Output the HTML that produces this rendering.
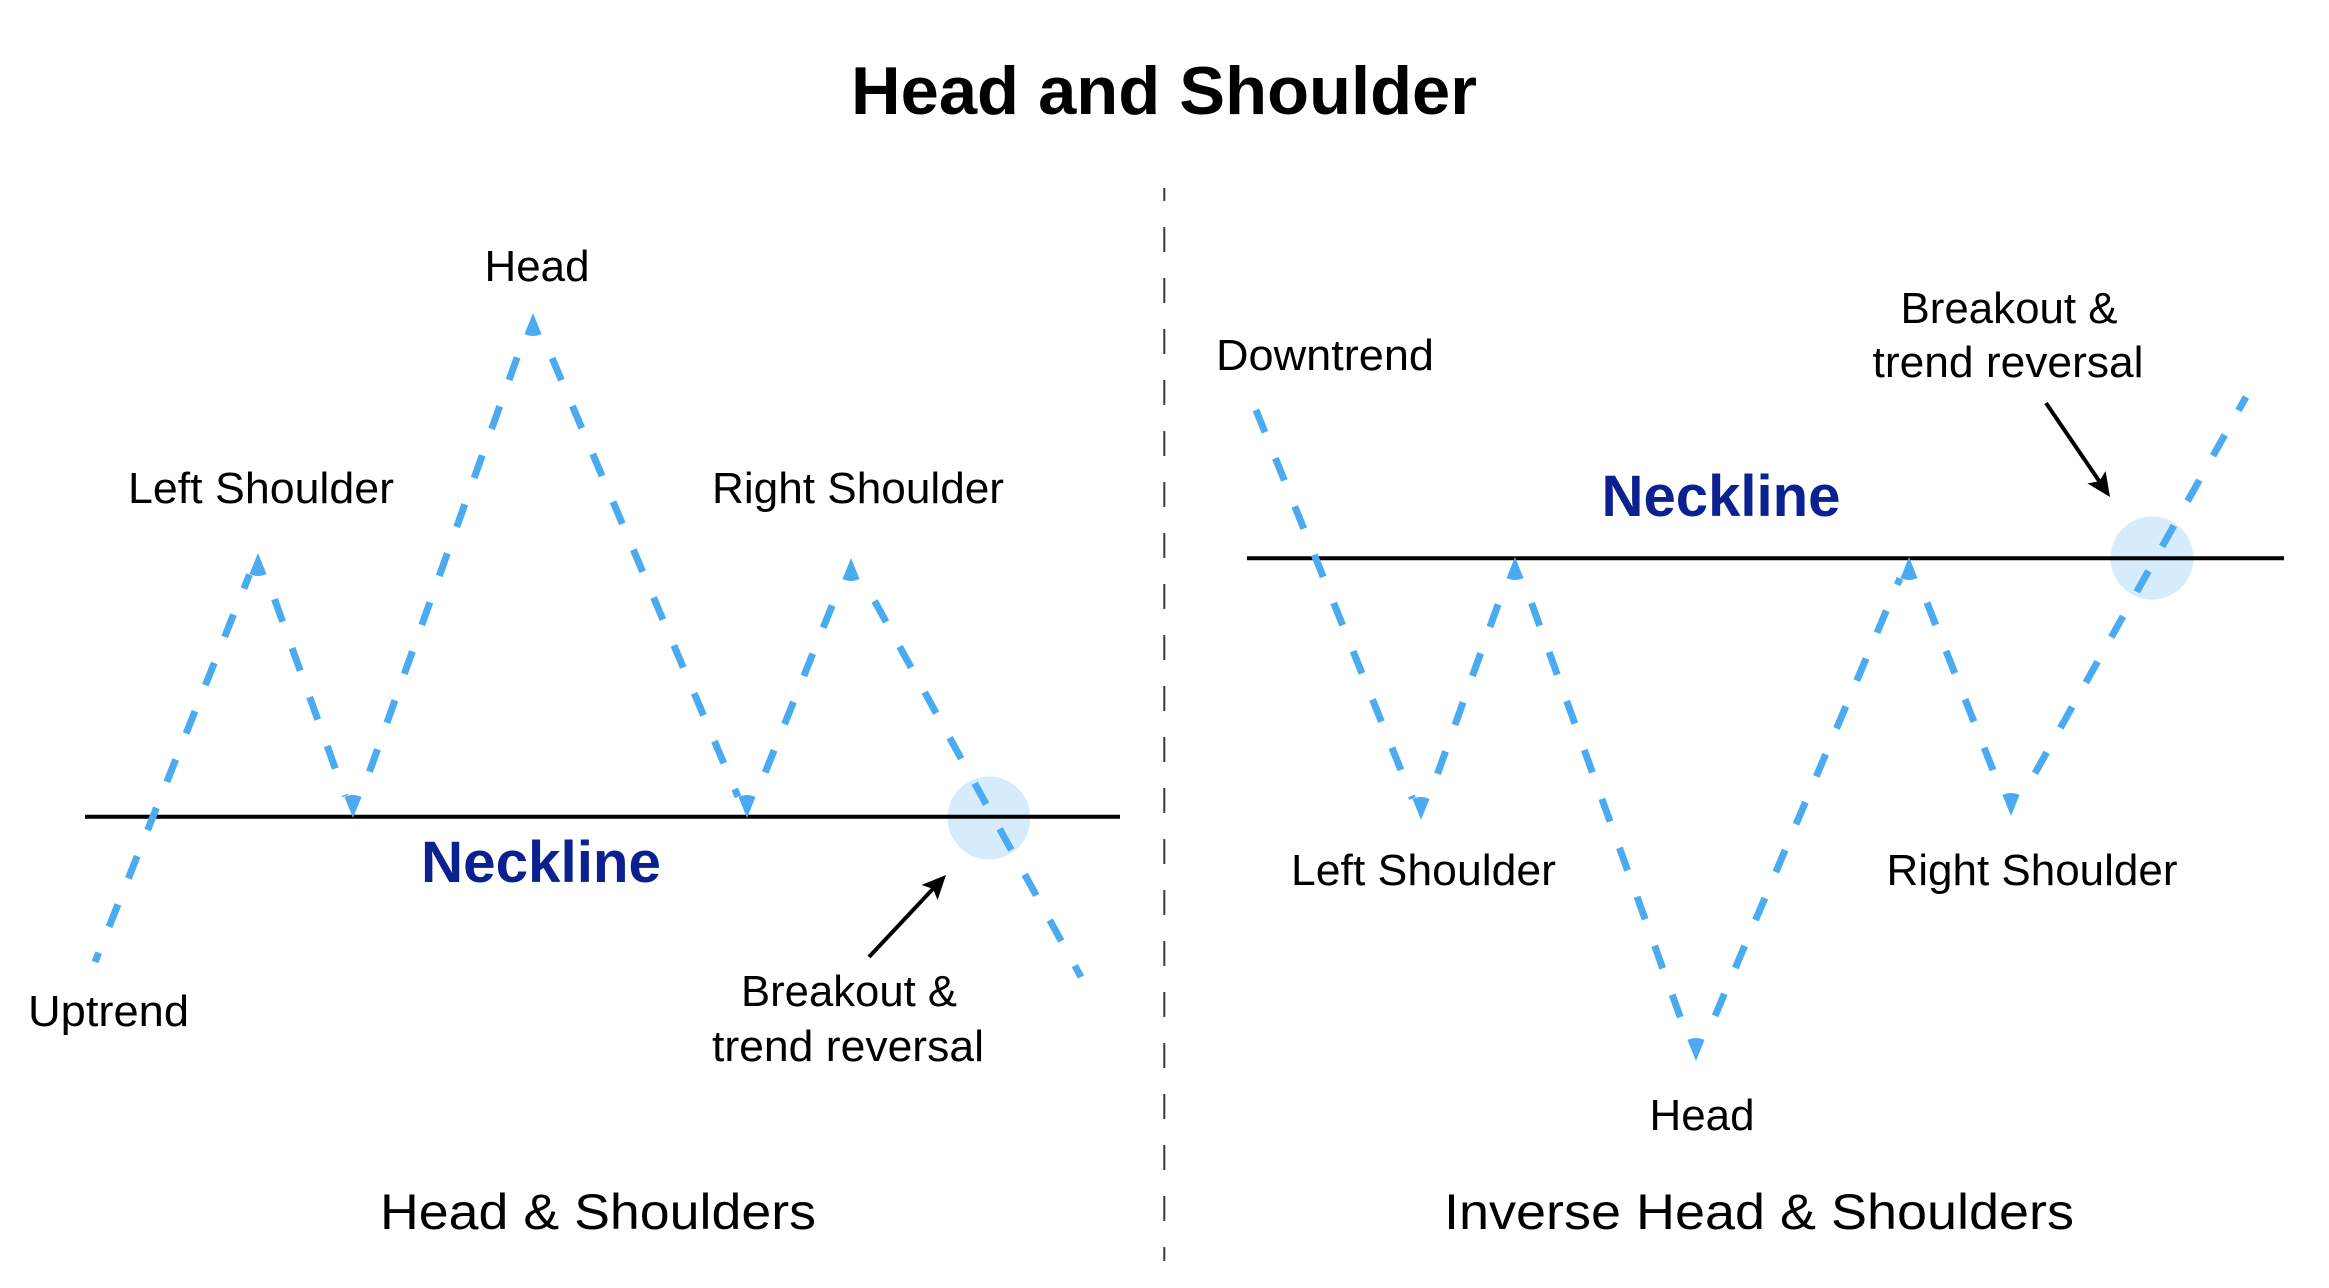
<!DOCTYPE html>
<html>
<head>
<meta charset="utf-8">
<style>
  html,body{margin:0;padding:0;background:#ffffff;}
  body{width:2329px;height:1288px;overflow:hidden;}
  svg{display:block;}
  text{font-family:"Liberation Sans", Arial, sans-serif;}
</style>
</head>
<body>
<svg width="2329" height="1288" viewBox="0 0 2329 1288" xmlns="http://www.w3.org/2000/svg">
  <rect x="0" y="0" width="2329" height="1288" fill="#ffffff"/>

  <!-- Title -->
  <text x="1164" y="114" font-size="68" font-weight="bold" fill="#000" text-anchor="middle" textLength="626" lengthAdjust="spacingAndGlyphs">Head and Shoulder</text>

  <!-- Divider -->
  <line x1="1164.3" y1="188" x2="1164.3" y2="1261" stroke="#3a3a3a" stroke-width="2" stroke-dasharray="25 26" stroke-dashoffset="12"/>

  <!-- Highlight circles -->
  <circle cx="989" cy="818" r="41.5" fill="#d6ebfb"/>
  <circle cx="2152" cy="558" r="41.5" fill="#d6ebfb"/>

  <!-- Necklines -->
  <line x1="85" y1="816.7" x2="1120" y2="816.7" stroke="#000" stroke-width="4"/>
  <line x1="1247" y1="558.3" x2="2284" y2="558.3" stroke="#000" stroke-width="4"/>

  <!-- LEFT pattern dashed lines -->
  <g stroke="#4babf0" stroke-width="7" stroke-linecap="butt" fill="none" stroke-dasharray="24 28">
    <line x1="95" y1="962" x2="249.5" y2="574.5" stroke-dashoffset="14"/>
    <line x1="265.09" y1="572.77" x2="345.2" y2="796.2" stroke-dashoffset="24"/>
    <line x1="360.05" y1="798.22" x2="525.2" y2="334.8" stroke-dashoffset="24"/>
    <line x1="541.19" y1="332.34" x2="738.0" y2="796.7" stroke-dashoffset="24"/>
    <line x1="754.8" y1="798.5" x2="842.5" y2="579.5" stroke-dashoffset="24"/>
    <line x1="861.1" y1="576.41" x2="1081" y2="977" stroke-dashoffset="24"/>
  </g>
  <!-- LEFT arrowheads (vertical) -->
  <g fill="#4babf0">
    <path d="M258 553 L266.5 574 Q258 578 249.5 574 Z"/>
    <path d="M353 818 L361.5 797 Q353 793 344.5 797 Z"/>
    <path d="M533 313 L541.5 334 Q533 338 524.5 334 Z"/>
    <path d="M747 818 L755.5 797 Q747 793 738.5 797 Z"/>
    <path d="M851 558 L859.5 579 Q851 583 842.5 579 Z"/>
  </g>

  <!-- RIGHT pattern dashed lines -->
  <g stroke="#4babf0" stroke-width="7" stroke-linecap="butt" fill="none" stroke-dasharray="24 28">
    <line x1="1256" y1="410" x2="1412.4" y2="798.6" stroke-dashoffset="0"/>
    <line x1="1428.07" y1="800.23" x2="1507.2" y2="578.8" stroke-dashoffset="24"/>
    <line x1="1522.10" y1="576.77" x2="1688.2" y2="1039.2" stroke-dashoffset="24"/>
    <line x1="1704.18" y1="1041.66" x2="1900.0" y2="578.3" stroke-dashoffset="24"/>
    <line x1="1916.69" y1="576.54" x2="2002.6" y2="794.5" stroke-dashoffset="24"/>
    <line x1="2021.27" y1="797.68" x2="2246" y2="397" stroke-dashoffset="24"/>
  </g>
  <!-- RIGHT arrowheads (vertical) -->
  <g fill="#4babf0">
    <path d="M1421 820 L1429.5 799 Q1421 795 1412.5 799 Z"/>
    <path d="M1515 557 L1523.5 578 Q1515 582 1506.5 578 Z"/>
    <path d="M1696 1061 L1704.5 1040 Q1696 1036 1687.5 1040 Z"/>
    <path d="M1909 557 L1917.5 578 Q1909 582 1900.5 578 Z"/>
    <path d="M2011 816 L2019.5 795 Q2011 791 2002.5 795 Z"/>
  </g>

  <!-- Black arrows -->
  <line x1="869" y1="957" x2="933" y2="888.8" stroke="#000" stroke-width="4"/>
  <path d="M946 875 L937.59 900.02 L932.99 888.85 L921.55 884.96 Z" fill="#000"/>
  <line x1="2046" y1="403" x2="2099.3" y2="481.3" stroke="#000" stroke-width="4"/>
  <path d="M2110 497 L2087.40 483.35 L2099.30 481.29 L2105.58 470.97 Z" fill="#000"/>

  <!-- LEFT labels -->
  <g fill="#000" font-size="44" text-anchor="middle">
    <text x="537" y="281" textLength="105" lengthAdjust="spacingAndGlyphs">Head</text>
    <text x="261" y="503" textLength="266" lengthAdjust="spacingAndGlyphs">Left Shoulder</text>
    <text x="858" y="503" textLength="292" lengthAdjust="spacingAndGlyphs">Right Shoulder</text>
    <text x="108.5" y="1026" textLength="161" lengthAdjust="spacingAndGlyphs">Uptrend</text>
    <text x="849" y="1006" textLength="216" lengthAdjust="spacingAndGlyphs">Breakout &amp;</text>
    <text x="848" y="1061" textLength="272" lengthAdjust="spacingAndGlyphs">trend reversal</text>
  </g>
  <text x="541" y="882" font-size="58" font-weight="bold" fill="#0b2190" text-anchor="middle" textLength="240" lengthAdjust="spacingAndGlyphs">Neckline</text>
  <text x="598" y="1229" font-size="50" fill="#000" text-anchor="middle" textLength="436" lengthAdjust="spacingAndGlyphs">Head &amp; Shoulders</text>

  <!-- RIGHT labels -->
  <g fill="#000" font-size="44" text-anchor="middle">
    <text x="1325" y="370" textLength="218" lengthAdjust="spacingAndGlyphs">Downtrend</text>
    <text x="2009" y="323" textLength="217" lengthAdjust="spacingAndGlyphs">Breakout &amp;</text>
    <text x="2008" y="377" textLength="271" lengthAdjust="spacingAndGlyphs">trend reversal</text>
    <text x="1423.5" y="885" textLength="265" lengthAdjust="spacingAndGlyphs">Left Shoulder</text>
    <text x="2032" y="885" textLength="291" lengthAdjust="spacingAndGlyphs">Right Shoulder</text>
    <text x="1702" y="1130" textLength="105" lengthAdjust="spacingAndGlyphs">Head</text>
  </g>
  <text x="1721" y="516" font-size="58" font-weight="bold" fill="#0b2190" text-anchor="middle" textLength="239" lengthAdjust="spacingAndGlyphs">Neckline</text>
  <text x="1759" y="1229" font-size="50" fill="#000" text-anchor="middle" textLength="630" lengthAdjust="spacingAndGlyphs">Inverse Head &amp; Shoulders</text>
</svg>
</body>
</html>
